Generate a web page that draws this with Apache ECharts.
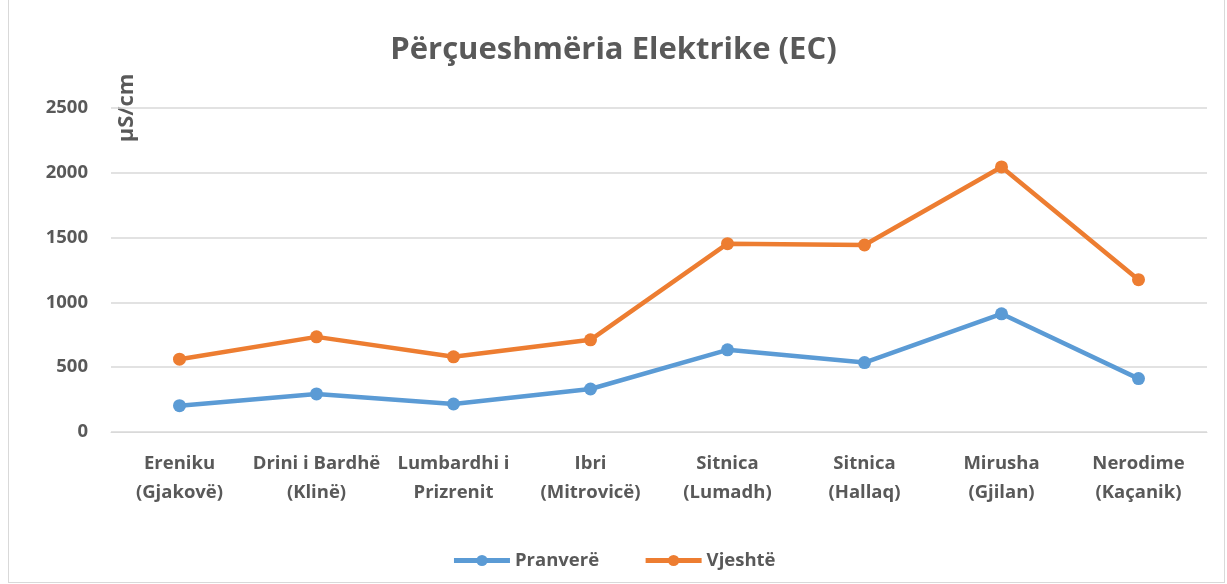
<!DOCTYPE html>
<html>
<head>
<meta charset="utf-8">
<script src="https://cdn.jsdelivr.net/npm/echarts@6/dist/echarts.min.js"></script>
<style>
  html, body { margin: 0; padding: 0; background: #fff; }
  #frame { position: absolute; left: 8px; top: -1px; width: 1217px; height: 584px; border: 1px solid #d9d9d9; box-sizing: border-box; }
  #chart { position: absolute; left: 0; top: 0; width: 1227px; height: 584px; }
</style>
</head>
<body>
<div id="frame"></div>
<div id="chart"></div>
<script>
const categories = [
  'Ereniku\n(Gjakovë)', 'Drini i Bardhë\n(Klinë)', 'Lumbardhi i\nPrizrenit', 'Ibri\n(Mitrovicë)',
  'Sitnica\n(Lumadh)', 'Sitnica\n(Hallaq)', 'Mirusha\n(Gjilan)', 'Nerodime\n(Kaçanik)'
];
const pranvere = [203, 294, 216, 332, 634, 536, 912, 412];
const vjeshte = [562, 734, 580, 711, 1453, 1443, 2045, 1175];
const yTicks = [0, 500, 1000, 1500, 2000, 2500];

const chart = echarts.init(document.getElementById('chart'));
const textColor = '#595959';
const font = "'Open Sans', sans-serif";

chart.setOption({
  animation: false,
  title: {
    text: 'Përçueshmëria Elektrike (EC)',
    left: 'center',
    top: 30,
    textStyle: { fontFamily: font, fontSize: 31, fontWeight: 'bold', color: textColor }
  },
  graphic: [{
    type: 'text',
    x: 127,
    y: 108,
    rotation: Math.PI / 2,
    style: {
      text: 'µS/cm',
      fontFamily: font, fontSize: 22, fontWeight: 'bold', fill: textColor,
      align: 'center', verticalAlign: 'middle'
    }
  }],
  legend: {
    bottom: 9,
    left: 'center',
    itemWidth: 56,
    itemHeight: 14,
    itemGap: 44,
    lineStyle: { width: 5 },
    textStyle: { fontFamily: font, fontSize: 18.5, fontWeight: 'bold', color: textColor },
    data: ['Pranverë', 'Vjeshtë']
  },
  grid: { left: 111, right: 20, top: 108, bottom: 152 },
  xAxis: {
    type: 'category',
    data: categories,
    axisLine: { lineStyle: { color: '#d9d9d9', width: 1 } },
    axisTick: { show: false },
    axisLabel: { fontFamily: font, fontSize: 18.5, fontWeight: 'bold', color: textColor, margin: 17, lineHeight: 29, interval: 0 }
  },
  yAxis: {
    type: 'value',
    min: yTicks[0],
    max: yTicks[yTicks.length - 1],
    interval: 500,
    axisLine: { show: false },
    axisTick: { show: false },
    axisLabel: { fontFamily: font, fontSize: 18.5, fontWeight: 'bold', color: textColor, margin: 23, formatter: v => String(v) },
    splitLine: { lineStyle: { color: '#d9d9d9', width: 1.5 } }
  },
  series: [
    {
      name: 'Pranverë', type: 'line', data: pranvere,
      symbol: 'circle', symbolSize: 13,
      lineStyle: { width: 4.5, color: '#5b9bd5' },
      itemStyle: { color: '#5b9bd5' }
    },
    {
      name: 'Vjeshtë', type: 'line', data: vjeshte,
      symbol: 'circle', symbolSize: 13,
      lineStyle: { width: 4.5, color: '#ed7d31' },
      itemStyle: { color: '#ed7d31' }
    }
  ]
});
window.addEventListener('resize', chart.resize);
</script>
</body>
</html>
